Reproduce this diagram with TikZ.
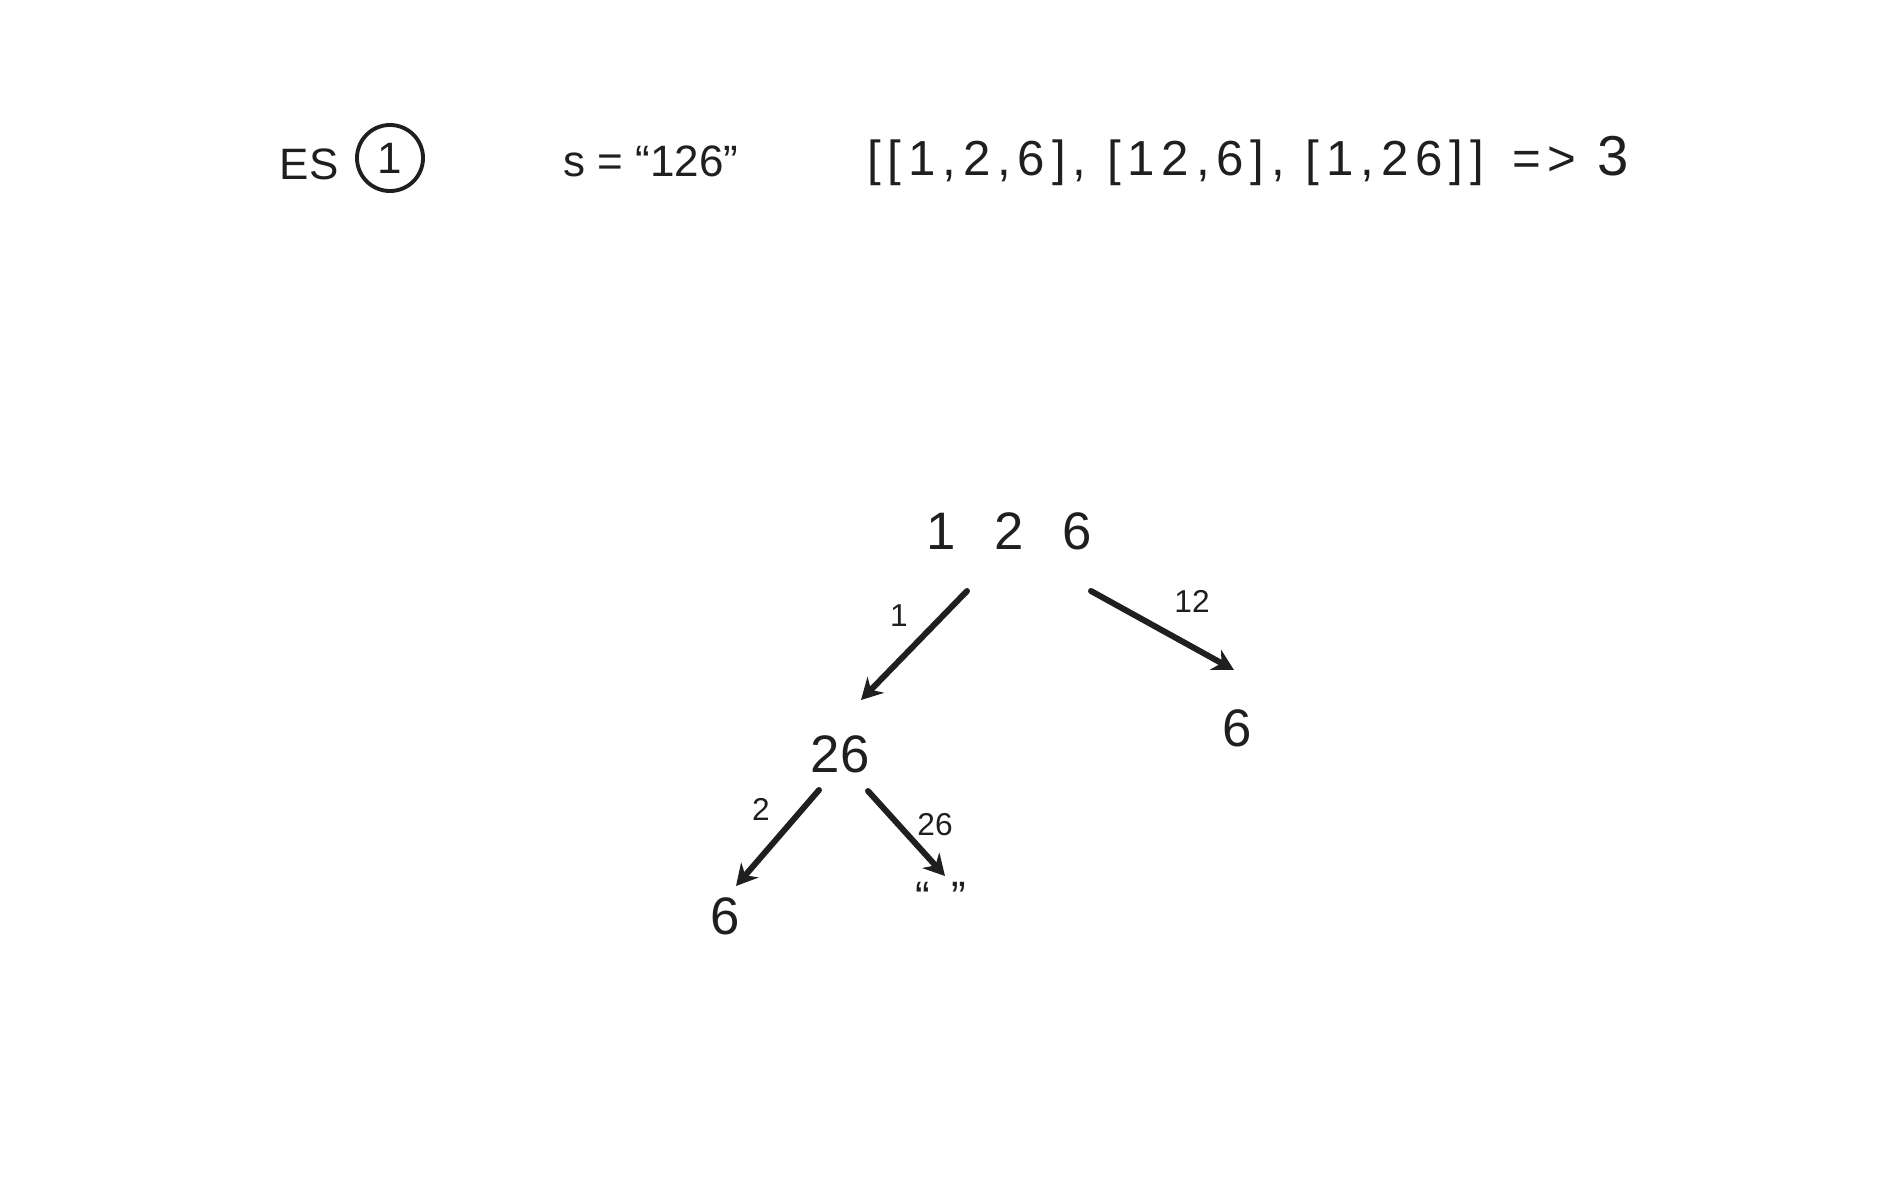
\documentclass[tikz,border=0pt]{standalone}
\RequirePackage{fontspec}
\setmainfont{Liberation Sans}
\RequirePackage{tikz}
\usetikzlibrary{arrows.meta}

\begin{document}
\begin{tikzpicture}[x=0.01cm,y=-0.01cm,
                    ink/.style={text=black!88},
                    big/.style={ink,font=\fontsize{15}{18}\selectfont,inner sep=0pt},
                    head/.style={ink,font=\fontsize{12.5}{15}\selectfont,inner sep=0pt},
                    lbl/.style={ink,font=\fontsize{9}{11}\selectfont,inner sep=0pt},
                    arr/.style={-{Stealth[length=6pt,width=6.5pt]},line width=1.7pt,black!88,line cap=round}]
                    \useasboundingbox (0,0) rectangle (1900,1200);
                    \node[head] (ex) at (309,164) {ES};
                    \node[head,draw=black!88,circle,line width=1.1pt,minimum size=0.66cm] (num) at (390,158) {1};
                    \node[head] (str) at (651,161) {s = ``126''};
                    \node[head,font=\fontsize{14}{17}\selectfont\addfontfeature{LetterSpace=14}] (res) at (1248,161)
                        {[[1,2,6], [12,6], [1,26]]\hspace{8pt}=>\hspace{6pt}{\fontsize{16}{18}\selectfont 3}};
                    \node[big] (root) at (1009,531) {1\hspace{11pt}2\hspace{11pt}6};
                    \node[big] (n26) at (840,754) {26};
                    \node[big] (r6) at (1237,728) {6};
                    \node[big] (l6) at (725,916) {6};
                    \node[head] (nil) at (941,897) {``\hspace{6pt}''};
                    \node[lbl] (a1) at (899,616) {1};
                    \node[lbl] (a12) at (1192,601) {12};
                    \node[lbl] (a2) at (761,809) {2};
                    \node[lbl] (a26) at (935,825) {26};
                    \draw[arr] ([shift={(-42,60)}]root.center) -- ([shift={(21,-54)}]n26.center);
                    \draw[arr] ([shift={(82,60)}]root.center) -- ([shift={(-3,-58)}]r6.center);
                    \draw[arr] ([shift={(-21,36)}]n26.center) -- ([shift={(11,-30)}]l6.center);
                    \draw[arr] ([shift={(28,37)}]n26.center) -- ([shift={(4,-21)}]nil.center);
                \end{tikzpicture}
\end{document}
